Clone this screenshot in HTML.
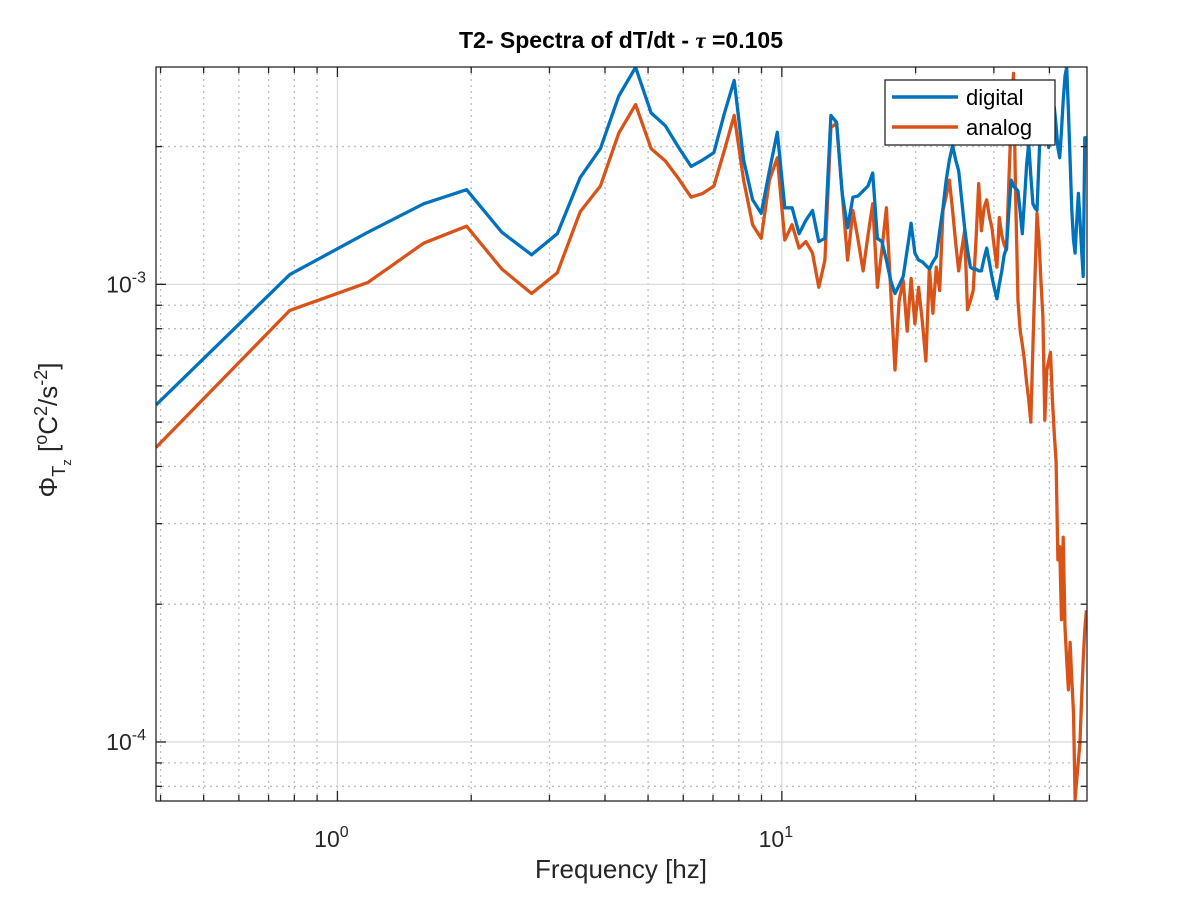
<!DOCTYPE html>
<html><head><meta charset="utf-8"><style>
html,body{margin:0;padding:0;background:#fff}
svg{display:block;font-family:"Liberation Sans",Arial,sans-serif}
</style></head><body>
<svg id="chart" width="1200" height="900" viewBox="0 0 1200 900" xmlns="http://www.w3.org/2000/svg">
<defs><clipPath id="clip"><rect x="156" y="67" width="931" height="734"/></clipPath></defs>
<rect x="0" y="0" width="1200" height="900" fill="#fff"/>
<g id="grid"></g>
<g id="series" clip-path="url(#clip)"></g>
<rect x="156" y="67" width="931" height="734" fill="none" stroke="#262626" stroke-width="1.3"/>
<g id="ticks"></g>
<text x="621" y="48" text-anchor="middle" font-size="23" font-weight="bold" fill="#000">T2- Spectra of dT/dt - <tspan font-family="Liberation Serif, serif" font-style="italic">τ</tspan> =0.105</text>
<text x="621" y="878" text-anchor="middle" font-size="26" fill="#262626">Frequency [hz]</text>
<text transform="translate(57,430) rotate(-90)" text-anchor="middle" font-size="26" fill="#262626">Φ<tspan font-size="18" dy="8">T</tspan><tspan font-size="13" dy="6">z</tspan><tspan dy="-14"> [</tspan><tspan font-size="18" dy="-10">o</tspan><tspan dy="10">C</tspan><tspan font-size="18" dy="-10">2</tspan><tspan dy="10">/s</tspan><tspan font-size="18" dy="-10">-2</tspan><tspan dy="10">]</tspan></text>
<g>
<rect x="885" y="80" width="170" height="65" fill="#fff" stroke="#262626" stroke-width="1.3"/>
<line x1="892" y1="97" x2="958" y2="97" stroke="#0072BD" stroke-width="3.5"/>
<text x="966" y="105" font-size="22" fill="#000">digital</text>
<line x1="892" y1="127" x2="958" y2="127" stroke="#D95319" stroke-width="3.5"/>
<text x="966" y="135" font-size="22" fill="#000">analog</text>
</g>
</svg>
<script>
const df = 0.390625;
const digital = [0.545,1.05,1.30,1.50,1.61,1.30,1.16,1.29,1.71,1.98,2.58,2.98,2.37,2.22,1.99,1.81,1.87,1.94,2.36,2.79,
1.87,1.53,1.43,1.77,2.15,1.47,1.47,1.29,1.38,1.45,1.24,1.26,2.34,2.26,1.58,1.33,1.55,1.56,1.60,1.64,1.75,1.26,1.24,1.13,1.02,0.955,0.995,1.04,1.19,
1.36,1.17,1.13,1.12,1.10,1.08,1.12,1.15,1.31,1.47,1.69,1.87,2.01,1.87,1.77,1.53,1.33,1.19,1.09,1.08,1.08,1.07,1.07,1.14,1.20,1.12,1.04,0.98,0.93,1.00,1.07,1.16,1.20,1.45,1.69,1.64,1.62,1.60,1.44,1.29,1.53,1.82,2.03,1.73,1.50,1.47,1.45,1.87,2.34,2.69,2.40,2.17,1.99,2.17,2.34,2.44,2.22,1.99,1.89,2.17,2.52,2.85,2.98,2.40,1.87,1.45,1.25,1.17,1.38,1.58,1.38,1.19,1.04,2.09,2.09];
const analog = [0.44,0.877,1.01,1.23,1.34,1.08,0.955,1.06,1.44,1.64,2.14,2.47,1.98,1.86,1.70,1.55,1.58,1.64,1.96,2.34,
1.69,1.35,1.26,1.69,1.89,1.25,1.35,1.20,1.24,1.17,0.985,1.13,2.20,2.25,1.58,1.13,1.45,1.25,1.07,1.28,1.50,0.985,1.19,1.47,0.97,0.65,0.92,1.02,0.79,
1.03,0.82,0.985,0.83,0.68,1.09,0.865,1.09,0.97,1.45,1.56,1.69,1.45,1.23,1.07,1.19,1.31,0.88,0.92,0.97,1.25,1.66,1.31,1.47,1.53,1.41,1.33,1.20,1.09,1.40,1.28,1.22,1.19,1.69,2.28,2.89,1.53,0.92,0.79,0.74,0.68,0.61,0.56,0.50,0.73,1.02,1.43,1.25,1.02,0.85,0.505,0.65,0.68,0.71,0.56,0.47,0.41,0.25,0.267,0.185,0.28,0.178,0.151,0.13,0.165,0.137,0.116,0.075,0.083,0.091,0.10,0.124,0.151,0.176,0.194];
const valueUnit = 1e-3;
const xTickVals = [1, 10];
const xTickLabels = ["0", "1"];
const yTickVals = [1e-4, 1e-3];
const yTickLabels = ["-4", "-3"];

const X0=156,X1=1087,Y0=67,Y1=801;
const xmin=Math.log10(0.390625), xmax=Math.log10(48.6);
const ymin=Math.log10(7.43e-5), ymax=Math.log10(2.985e-3);
function xs(f){return X0+(Math.log10(f)-xmin)/(xmax-xmin)*(X1-X0);}
function ys(v){return Y1-(Math.log10(v)-ymin)/(ymax-ymin)*(Y1-Y0);}
const NS="http://www.w3.org/2000/svg";
function mk(tag,attrs,parent){const e=document.createElementNS(NS,tag);for(const k in attrs)e.setAttribute(k,attrs[k]);parent.appendChild(e);return e;}
const grid=document.getElementById('grid'),ticks=document.getElementById('ticks'),series=document.getElementById('series');
for(let d=-1;d<=1;d++){for(let m=1;m<=9;m++){const f=m*Math.pow(10,d);if(f<0.390625||f>48.6)continue;const x=xs(f);
 const major=m===1;
 const g=mk('line',{x1:x,x2:x,y1:Y0,y2:Y1,stroke:major?'#dcdcdc':'#bdbdbd','stroke-width':1.3,'stroke-dasharray':major?'none':'2,4'},grid);
 
 
 const L=major?10:6;
 const t1=mk('line',{x1:x,x2:x,y1:Y1,y2:Y1-L,stroke:'#262626','stroke-width':1.3},ticks);
 
 
 const t2=mk('line',{x1:x,x2:x,y1:Y0,y2:Y0+L,stroke:'#262626','stroke-width':1.3},ticks);
 
 
}}
for(let d=-5;d<=-3;d++){for(let m=1;m<=9;m++){const v=m*Math.pow(10,d);if(v<7.43e-5||v>2.985e-3)continue;const y=ys(v);
 const major=m===1;
 const g=mk('line',{x1:X0,x2:X1,y1:y,y2:y,stroke:major?'#dcdcdc':'#bdbdbd','stroke-width':1.3,'stroke-dasharray':major?'none':'2,4'},grid);
 
 
 const L=major?10:6;
 const t1=mk('line',{x1:X0,x2:X0+L,y1:y,y2:y,stroke:'#262626','stroke-width':1.3},ticks);
 
 
 const t2=mk('line',{x1:X1,x2:X1-L,y1:y,y2:y,stroke:'#262626','stroke-width':1.3},ticks);
 
 
}}
xTickVals.forEach((v,i)=>{const t=mk('text',{x:xs(v)-6,y:847,'text-anchor':'middle','font-size':23,fill:'#262626'},ticks);
 
 
 t.innerHTML='10<tspan font-size="16" dy="-10">'+xTickLabels[i]+'</tspan>';});
yTickVals.forEach((v,i)=>{const t=mk('text',{x:146,y:ys(v)+8,'text-anchor':'end','font-size':23,fill:'#262626'},ticks);
 
 
 t.innerHTML='10<tspan font-size="16" dy="-10">'+yTickLabels[i]+'</tspan>';});
function draw(arr,color,name){const pts=arr.map((v,i)=>xs((i+1)*df).toFixed(1)+','+ys(v*valueUnit).toFixed(1)).join(' ');
 const p=mk('polyline',{points:pts,fill:'none',stroke:color,'stroke-width':3.3,'stroke-linejoin':'round'},series);
 
 }
draw(analog,'#D95319','analog-line');
draw(digital,'#0072BD','digital-line');
</script>
</body></html>
